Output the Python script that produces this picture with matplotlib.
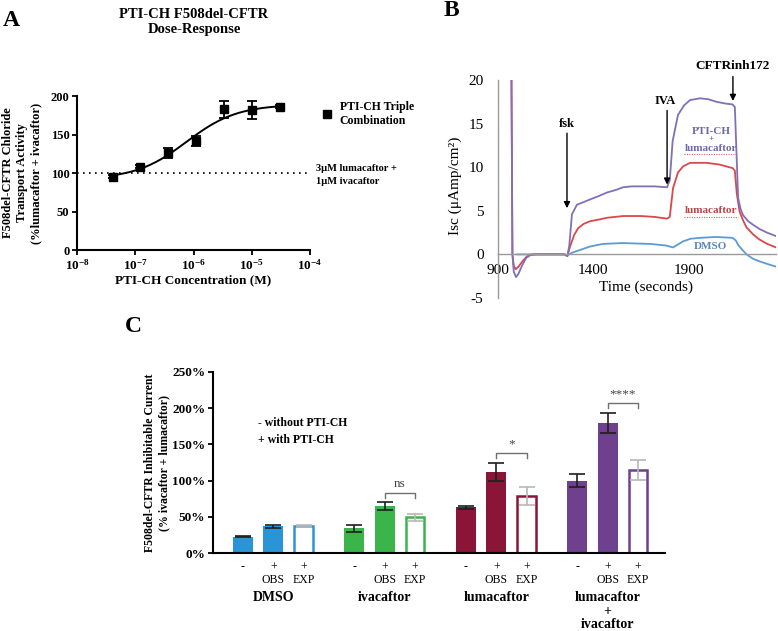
import numpy as np
import matplotlib
matplotlib.use('Agg')
import matplotlib.pyplot as plt
import matplotlib.transforms as mtransforms
from matplotlib.lines import Line2D

plt.rcParams['font.family'] = 'Liberation Serif'
plt.rcParams['mathtext.fontset'] = 'custom'
plt.rcParams['mathtext.rm'] = 'Liberation Serif'
plt.rcParams['mathtext.bf'] = 'Liberation Serif:bold'
plt.rcParams['axes.unicode_minus'] = False

# ---- panel A: dose response ----
dose_conc = [4.1e-8, 1.23e-7, 3.7e-7, 1.1e-6, 3.3e-6, 1.0e-5, 3.0e-5]
dose_mean = [95, 108, 126, 141.5, 183, 182, 186]
dose_err = [2, 2, 6, 6, 11, 12, 2]
# 4-parameter logistic fit
fit_bottom, fit_top, fit_logec50, fit_hill = 92, 189, -6.12, 1.0

# ---- panel B: Ussing chamber traces ----
purple_t = [971, 973, 978, 985, 997, 1010, 1030, 1050, 1070, 1100, 1180, 1250, 1265, 1275,
            1289, 1315, 1350, 1383, 1430, 1472, 1520, 1556, 1600, 1645, 1720, 1786, 1800,
            1815, 1843, 1875, 1906, 1958, 2000, 2044, 2090, 2128, 2140, 2149, 2157, 2170,
            2183, 2210, 2235, 2270, 2308, 2355]
purple_v = [40, 20, 0, -2.0, -2.6, -2.2, -1.2, -0.4, -0.1, 0, 0, 0, -0.2, 1.0,
            4.6, 5.7, 6.0, 6.3, 6.7, 7.1, 7.4, 7.7, 7.8, 7.8, 7.8, 7.7, 8.5,
            13.0, 16.0, 17.1, 17.7, 17.9, 17.8, 17.5, 17.3, 17.2, 16.9, 11.4, 6.5, 5.2,
            4.5, 3.8, 3.4, 2.9, 2.5, 2.1]
red_t = [971, 973, 978, 985, 995, 1010, 1030, 1050, 1075, 1150, 1250, 1265, 1279, 1300,
         1321, 1350, 1383, 1430, 1472, 1556, 1650, 1720, 1786, 1800, 1817, 1843, 1870,
         1906, 1994, 2060, 2128, 2140, 2150, 2165, 2185, 2201, 2235, 2269, 2310, 2355]
red_v = [40, 20, 0, -1.3, -1.7, -1.4, -0.8, -0.3, 0, 0, 0, -0.2, 0.9, 2.2,
         3.0, 3.5, 3.8, 4.0, 4.2, 4.4, 4.4, 4.3, 4.1, 4.3, 7.6, 9.4, 10.1,
         10.5, 10.5, 10.3, 9.9, 9.6, 7.0, 4.9, 3.8, 3.1, 2.3, 1.7, 1.2, 0.8]
blue_t = [1000, 1100, 1250, 1265, 1290, 1330, 1383, 1450, 1550, 1700, 1786, 1800, 1817,
          1840, 1869, 1910, 1958, 2040, 2128, 2145, 2157, 2180, 2201, 2235, 2269, 2310, 2355]
blue_v = [0, 0, 0, -0.1, 0.2, 0.5, 0.9, 1.2, 1.3, 1.2, 1.0, 0.9, 0.8,
          1.1, 1.5, 1.8, 1.9, 2.0, 1.9, 1.6, 1.1, 0.5, 0, -0.5, -0.8, -1.1, -1.4]

# ---- panel C: inhibitable current ----
groups = ['DMSO', 'ivacaftor', 'lumacaftor', 'lumacaftor\n+\nivacaftor']
group_colors = ['#2a95d5', '#3bb44a', '#8a1538', '#6e408e']
neg_mean = [22.5, 34, 63, 100]
neg_err = [1, 5, 2, 9]
obs_mean = [37, 65, 112, 180]
obs_err = [2, 5, 12.5, 14]
exp_mean = [37, 49.3, 78.7, 114.6]
exp_err = [1.5, 5, 13, 14]
sig_labels = ['', 'ns', '*', '****']
bar_labels = ['-', '+\nOBS', '+\nEXP']

W, H = 778, 631
fig = plt.figure(figsize=(W / 100, H / 100), dpi=100)


def box(l, t, r, b):
    return [l / W, 1 - b / H, (r - l) / W, (b - t) / H]


def ftext(x, y, s, **kw):
    return fig.text(x / W, 1 - y / H, s, **kw)


# ================= A =================
axA = fig.add_axes(box(77, 96, 310, 250))
xs = np.logspace(np.log10(dose_conc[0]), np.log10(dose_conc[-1]), 200)
ys = fit_bottom + (fit_top - fit_bottom) / (1 + 10 ** ((fit_logec50 - np.log10(xs)) * fit_hill))
axA.plot(xs, ys, color='black', lw=1.4)
axA.errorbar(dose_conc, dose_mean, yerr=dose_err, fmt='s', color='black', ms=6,
             capsize=3.5, elinewidth=1.3, capthick=1.3)
axA.axhline(100, color='black', lw=1.2, ls=(0, (1, 2.6)))
axA.set_xscale('log')
axA.set_xlim(1e-8, 1e-4)
axA.set_ylim(0, 200)
axA.set_xticks([1e-8, 1e-7, 1e-6, 1e-5, 1e-4])
axA.set_xticklabels([r'$\mathbf{10^{%d}}$' % e for e in range(-8, -3)], fontsize=9.5)
axA.minorticks_off()
axA.set_yticks([0, 50, 100, 150, 200])
axA.set_yticklabels(['0', '50', '100', '150', '200'], fontsize=9, fontweight='bold')
for s in ['top', 'right']:
    axA.spines[s].set_visible(False)
for s in ['left', 'bottom']:
    axA.spines[s].set_linewidth(1.5)
axA.tick_params(width=1.3, length=3.5, pad=2)
leg = axA.legend(handles=[Line2D([], [], marker='s', ls='none', color='black', ms=5.5)],
                 labels=['PTI-CH Triple\nCombination'], loc='center left',
                 bbox_to_anchor=(1.0, 0.885), frameon=False, handlelength=1.0,
                 handletextpad=0.6, prop={'weight': 'bold', 'size': 8.5})

ftext(11, 20, 'A', fontsize=17, fontweight='bold', ha='center', va='center')
ftext(194, 22, 'PTI-CH F508del-CFTR\nDose-Response', fontsize=10.5, fontweight='bold',
      ha='center', va='center', linespacing=1.1)
ftext(22, 173, 'F508del-CFTR Chloride\nTransport Activity\n(%lumacaftor + ivacaftor)',
      fontsize=9, fontweight='bold', rotation=90, ha='center', va='center', linespacing=1.2)
ftext(193, 280, 'PTI-CH Concentration (M)', fontsize=9.5, fontweight='bold', ha='center', va='center')
ftext(316, 169, '3\u03bcM lumacaftor +', fontsize=7.5, fontweight='bold', ha='left', va='center')
ftext(316, 181, '1\u03bcM ivacaftor', fontsize=7.5, fontweight='bold', ha='left', va='center')

# ================= B =================
axB = fig.add_axes(box(497.5, 80, 776, 298))
axB.plot(blue_t, blue_v, color='#5b9bd5', lw=1.3)
axB.plot(red_t, red_v, color='#d9484a', lw=1.3)
axB.plot(purple_t, purple_v, color='#8070b8', lw=1.3)
axB.set_xlim(900, 2355)
axB.set_ylim(-5, 20)
axB.set_xticks([900, 1400, 1900])
axB.set_yticks([-5, 0, 5, 10, 15, 20])
for s in ['top', 'right']:
    axB.spines[s].set_visible(False)
axB.spines['bottom'].set_position(('data', 0))
for s in ['left', 'bottom']:
    axB.spines[s].set_color('#9a9a9a')
    axB.spines[s].set_linewidth(1.0)
axB.tick_params(axis='y', length=0, pad=10, labelsize=11)
axB.tick_params(axis='x', length=0, pad=7, labelsize=11)

arrow = dict(arrowstyle='-|>', color='black', lw=1.0, mutation_scale=9, shrinkA=0, shrinkB=0)
axB.annotate('', xy=(1263, 5.3), xytext=(1263, 13.9), arrowprops=arrow)
axB.annotate('', xy=(1786, 8.0), xytext=(1786, 16.5), arrowprops=arrow)
axB.annotate('', xy=(2130, 17.6), xytext=(2130, 20.4), arrowprops=arrow, annotation_clip=False)
axB.text(1263, 15.0, 'fsk', fontsize=9, fontweight='bold', ha='center', va='center')
axB.text(1778, 17.6, 'IVA', fontsize=9, fontweight='bold', ha='center', va='center')
axB.text(2130, 21.6, 'CFTRinh172', fontsize=9.5, fontweight='bold', ha='center', va='center',
         clip_on=False)
axB.text(2015, 14.1, 'PTI-CH', fontsize=8, fontweight='bold', ha='center', va='center', color='#6a6aa6')
axB.text(2015, 13.2, '+', fontsize=6, fontweight='bold', ha='center', va='center', color='#6a6aa6')
axB.text(2015, 12.2, 'lumacaftor', fontsize=8, fontweight='bold', ha='center', va='center', color='#6a6aa6')
axB.text(2015, 5.0, 'lumacaftor', fontsize=8, fontweight='bold', ha='center', va='center', color='#b84545')
axB.text(2015, 0.9, 'DMSO', fontsize=8, fontweight='bold', ha='center', va='center', color='#5a86bf')
# spell-check style underline seen under the labels
for yy in (11.5, 4.3):
    axB.plot([1875, 2155], [yy, yy], color='#e06060', lw=0.8, ls=(0, (1, 1.2)))

ftext(451, 11, 'B', fontsize=17, fontweight='bold', ha='center', va='center')
ftext(646, 287, 'Time (seconds)', fontsize=11, ha='center', va='center')
ftext(455, 186, 'Isc (\u03bcAmp/cm\u00b2)', fontsize=11, ha='center', va='center', rotation=90)

# ================= C =================
axC = fig.add_axes(box(213, 372, 665, 553))
gap = 3.68
width = 0.66
tick_pos, tick_lab = [], []
blend = mtransforms.blended_transform_factory(axC.transData, axC.transAxes)
for g, name in enumerate(groups):
    col = group_colors[g]
    x0 = g * gap
    axC.bar(x0, neg_mean[g], width, color=col)
    axC.bar(x0 + 1, obs_mean[g], width, color=col)
    axC.bar(x0 + 2, exp_mean[g], width * 0.93, facecolor='white', edgecolor=col, linewidth=1.8)
    axC.errorbar([x0, x0 + 1], [neg_mean[g], obs_mean[g]], yerr=[neg_err[g], obs_err[g]],
                 fmt='none', ecolor='#1e1e1e', elinewidth=1.2, capsize=6, capthick=1.2)
    axC.errorbar([x0 + 2], [exp_mean[g]], yerr=[exp_err[g]], fmt='none', ecolor='#b8b8b8',
                 elinewidth=1.2, capsize=6, capthick=1.2)
    tick_pos += [x0, x0 + 1, x0 + 2]
    tick_lab += bar_labels
    axC.text(x0 + 1, -0.21, name, transform=blend,
             ha='center', va='top', fontsize=10, fontweight='bold', linespacing=1.05)
    if sig_labels[g]:
        top = max(obs_mean[g] + obs_err[g], exp_mean[g] + exp_err[g]) + 13.5
        axC.plot([x0 + 1, x0 + 1, x0 + 2, x0 + 2], [top - 7, top, top, top - 7],
                 color='#707070', lw=1.0)
        axC.text(x0 + 1.5, top + 4, sig_labels[g], ha='center', va='bottom', fontsize=9.5,
                 color='#444444')

axC.set_xlim(-0.99, 13.93)
axC.set_ylim(0, 250)
axC.set_xticks(tick_pos)
axC.set_xticklabels(tick_lab, fontsize=8.5, linespacing=1.05)
axC.tick_params(axis='x', length=0, pad=6)
axC.set_yticks([0, 50, 100, 150, 200, 250])
axC.set_yticklabels(['%d%%' % v for v in [0, 50, 100, 150, 200, 250]], fontsize=9.5, fontweight='bold')
axC.tick_params(axis='y', width=1.3, length=3.5, pad=2)
for s in ['top', 'right']:
    axC.spines[s].set_visible(False)
for s in ['left', 'bottom']:
    axC.spines[s].set_linewidth(1.5)

ftext(133, 326, 'C', fontsize=17, fontweight='bold', ha='center', va='center')
ftext(157, 463, 'F508del-CFTR Inhibitable Current\n(% ivacaftor + lumacaftor)', fontsize=8.5,
      fontweight='bold', rotation=90, ha='center', va='center', linespacing=1.25)
ftext(258, 423, '- without PTI-CH', fontsize=8.5, fontweight='bold', ha='left', va='center')
ftext(258, 440, '+ with PTI-CH', fontsize=8.5, fontweight='bold', ha='left', va='center')

fig.savefig('out.png', dpi=100)
